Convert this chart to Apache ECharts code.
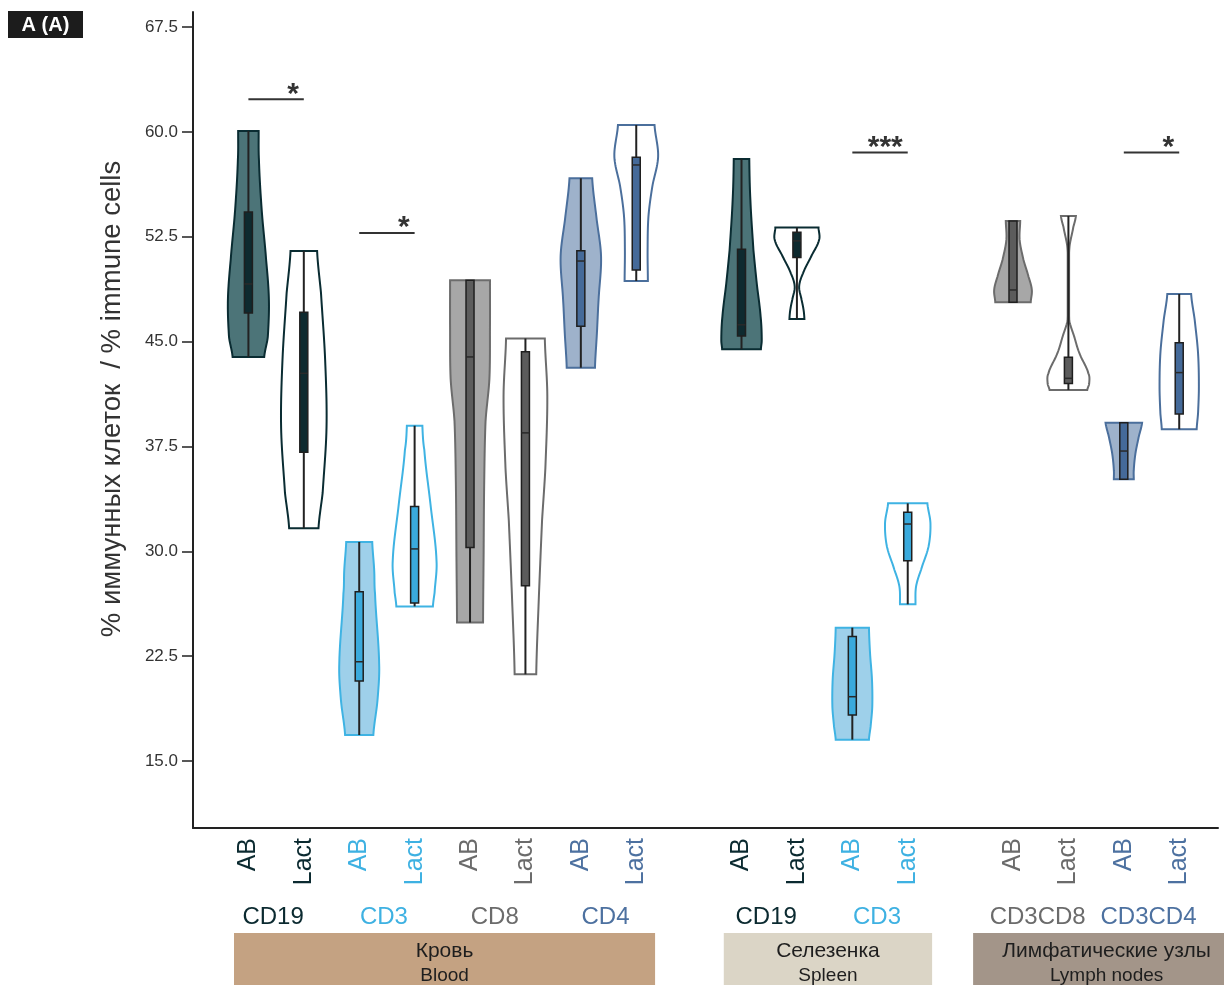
<!DOCTYPE html>
<html>
<head>
<meta charset="utf-8">
<script src="https://cdn.jsdelivr.net/npm/echarts@6/dist/echarts.min.js"></script>
<style>
  html, body { margin: 0; padding: 0; background: #ffffff; }
  #chart { width: 1224px; height: 985px; }
</style>
</head>
<body>
<div id="chart"></div>
<script>
// ---- data -------------------------------------------------------------
const tissues = [['Кровь', 'Blood'], ['Селезенка', 'Spleen'], ['Лимфатические узлы', 'Lymph nodes']];
const markers = [['CD19', 'CD3', 'CD8', 'CD4'], ['CD19', 'CD3'], ['CD3CD8', 'CD3CD4']];
const conditions = ['AB', 'Lact'];
const yTicks = [15, 22.5, 30, 37.5, 45, 52.5, 60, 67.5];

// five-number summaries per violin: [min, q1, median, q3, max]
const boxStats = [
  [43.90, 47.04, 49.12, 54.27, 60.06],  // Blood CD19 AB
  [31.65, 37.08, 42.73, 47.09, 51.48],  // Blood CD19 Lact
  [16.86, 20.72, 22.10, 27.10, 30.67],  // Blood CD3 AB
  [26.06, 26.31, 30.17, 33.20, 38.98],  // Blood CD3 Lact
  [24.91, 30.27, 43.90, 49.38, 49.38],  // Blood CD8 AB
  [21.20, 27.54, 38.47, 44.27, 45.21],  // Blood CD8 Lact
  [43.13, 46.10, 50.76, 51.50, 56.68],  // Blood CD4 AB
  [49.33, 50.12, 57.63, 58.18, 60.49],  // Blood CD4 Lact
  [44.45, 45.40, 46.20, 51.60, 58.06],  // Spleen CD19 AB
  [46.61, 51.02, 52.20, 52.81, 53.15],  // Spleen CD19 Lact
  [16.53, 18.29, 19.60, 23.90, 24.54],  // Spleen CD3 AB
  [26.21, 29.33, 31.95, 32.79, 33.43],  // Spleen CD3 Lact
  [47.81, 47.81, 48.69, 53.62, 53.62],  // Lymph nodes CD3CD8 AB
  [41.54, 42.00, 42.37, 43.88, 53.98],  // Lymph nodes CD3CD8 Lact
  [35.15, 35.15, 37.17, 39.20, 39.20],  // Lymph nodes CD3CD4 AB
  [38.73, 39.82, 42.78, 44.92, 48.40]   // Lymph nodes CD3CD4 Lact
];

// kernel density outlines: [value, relative density]
const densities = [
  [[60.06, 0.37], [58.00, 0.38], [54.41, 0.48], [50.83, 0.64], [47.97, 0.74], [45.33, 0.70], [43.90, 0.57]],
  [[51.48, 0.48], [48.48, 0.62], [43.68, 0.77], [38.89, 0.82], [34.17, 0.68], [31.65, 0.53]],
  [[30.67, 0.47], [28.66, 0.54], [27.00, 0.57], [21.94, 0.72], [19.36, 0.66], [16.86, 0.51]],
  [[38.98, 0.28], [37.25, 0.35], [33.41, 0.57], [29.33, 0.79], [27.03, 0.72], [26.06, 0.66]],
  [[49.38, 0.72], [46.00, 0.72], [42.35, 0.70], [39.29, 0.56], [34.70, 0.51], [29.60, 0.49], [24.91, 0.47]],
  [[45.21, 0.70], [41.08, 0.79], [35.96, 0.72], [32.20, 0.60], [27.00, 0.49], [21.20, 0.39]],
  [[56.68, 0.41], [53.93, 0.56], [51.07, 0.73], [47.97, 0.64], [45.60, 0.58], [43.13, 0.51]],
  [[60.49, 0.66], [58.22, 0.79], [56.08, 0.58], [53.93, 0.44], [51.55, 0.41], [49.33, 0.42]],
  [[58.06, 0.28], [55.13, 0.32], [51.55, 0.43], [49.17, 0.55], [46.78, 0.69], [45.11, 0.73], [44.45, 0.70]],
  [[53.15, 0.78], [52.27, 0.80], [51.07, 0.51], [49.88, 0.22], [48.93, 0.08], [47.97, 0.17], [47.26, 0.24], [46.61, 0.27]],
  [[24.54, 0.60], [22.70, 0.64], [20.80, 0.71], [18.89, 0.72], [17.46, 0.66], [16.53, 0.60]],
  [[33.43, 0.71], [31.99, 0.82], [30.33, 0.75], [28.66, 0.48], [27.47, 0.30], [26.21, 0.28]],
  [[53.62, 0.26], [52.27, 0.24], [50.83, 0.38], [49.64, 0.56], [48.69, 0.68], [47.81, 0.64]],
  [[53.98, 0.27], [53.22, 0.18], [51.79, 0.04], [50.10, 0.02], [46.54, 0.03], [45.35, 0.21], [44.16, 0.40], [42.73, 0.72], [42.00, 0.75], [41.54, 0.68]],
  [[39.20, 0.66], [38.20, 0.54], [37.00, 0.42], [35.80, 0.36], [35.15, 0.36]],
  [[48.40, 0.43], [46.54, 0.56], [44.16, 0.68], [41.77, 0.71], [39.87, 0.68], [38.73, 0.63]]
];

// significant AB vs Lact comparisons: [index of AB violin, bracket level, stars]
const significance = [
  [0, 62.33, '*'],
  [2, 52.77, '*'],
  [10, 58.53, '***'],
  [14, 58.53, '*']
];

// ---- layout & style ---------------------------------------------------
const FONT = '"Liberation Sans", Arial, Helvetica, sans-serif';
const Y_MIN = 10.21, Y_MAX = 68.57;
const X_MAX = 18.5;
const TISSUE_GAP = 0.9;
const tissueBandRange = [[0.74, 8.34], [9.58, 13.34], [14.08, 18.9]];
const tissueBandColor = ['#c4a282', '#dbd5c6', '#a39589'];

const palette = {
  CD19: { line: '#0a2c32', fill: '#4c7478', box: '#0e2a2f', text: '#0b2a30' },
  CD3:  { line: '#3fb3e3', fill: '#9ed0ea', box: '#3aaadd', text: '#3eb1e2' },
  CD8:  { line: '#6c6c6c', fill: '#a7a7a7', box: '#5c5c5c', text: '#6b6b6b' },
  CD4:  { line: '#4b6f9c', fill: '#9eb2cb', box: '#456a99', text: '#4d71a0' }
};
palette.CD3CD8 = palette.CD8;
palette.CD3CD4 = palette.CD4;

// slot of every violin along the x axis, with a gap between tissues
const violins = [];
const pairs = [];
let slot = 1;
tissues.forEach((t, ti) => {
  if (ti > 0) slot += TISSUE_GAP;
  markers[ti].forEach(m => {
    pairs.push({ marker: m, mid: slot + 0.5 });
    conditions.forEach(c => {
      violins.push({ tissue: ti, marker: m, cond: c, pos: slot });
      slot += 1;
    });
  });
});

// smooth outline: linear in y, Catmull-Rom on the half-width
function smoothOutline(pts) {
  const out = [];
  const steps = 12;
  for (let k = 0; k < pts.length - 1; k++) {
    const p0 = pts[k - 1] || pts[k], p1 = pts[k], p2 = pts[k + 1], p3 = pts[k + 2] || pts[k + 1];
    for (let s = 0; s < steps; s++) {
      const t = s / steps, t2 = t * t, t3 = t2 * t;
      const w = 0.5 * (2 * p1[1] + (-p0[1] + p2[1]) * t + (2 * p0[1] - 5 * p1[1] + 4 * p2[1] - p3[1]) * t2 + (-p0[1] + 3 * p1[1] - 3 * p2[1] + p3[1]) * t3);
      out.push([p1[0] + (p2[0] - p1[0]) * t, Math.max(0.7, w)]);
    }
  }
  out.push(pts[pts.length - 1]);
  return out;
}

function renderViolin(params, api) {
  const i = api.value(2);
  const v = violins[i];
  const st = boxStats[i];
  const pal = palette[v.marker];
  const yOf = val => api.coord([v.pos, val])[1];
  const cx = api.coord([v.pos, st[2]])[0];
  const half = api.size([1, 0])[0] * 0.5;
  const pts = densities[i].map(([val, d]) => [yOf(val), d * half]).sort((a, b) => a[0] - b[0]);
  const outline = smoothOutline(pts);
  const right = outline.map(([y, w]) => [cx + w, y]);
  const left = outline.slice().reverse().map(([y, w]) => [cx - w, y]);
  const bw = 4;
  return {
    type: 'group',
    children: [
      { type: 'polygon', shape: { points: right.concat(left) },
        style: { fill: v.cond === 'AB' ? pal.fill : '#ffffff', stroke: pal.line, lineWidth: 2 } },
      { type: 'line', shape: { x1: cx, y1: yOf(st[4]), x2: cx, y2: yOf(st[0]) },
        style: { stroke: '#222222', lineWidth: 2 } },
      { type: 'rect', shape: { x: cx - bw, y: yOf(st[3]), width: bw * 2, height: yOf(st[1]) - yOf(st[3]) },
        style: { fill: pal.box, stroke: '#1f1f1f', lineWidth: 1.5 } },
      { type: 'line', shape: { x1: cx - bw, y1: yOf(st[2]), x2: cx + bw, y2: yOf(st[2]) },
        style: { stroke: '#2a2a2a', lineWidth: 1.5 } },
      { type: 'text', x: cx, y: yOf(Y_MIN) + 10, rotation: Math.PI / 2,
        style: { text: v.cond, fill: pal.text, fontSize: 25, fontFamily: FONT, align: 'right', verticalAlign: 'middle' } }
    ]
  };
}

function renderSignificance(params, api) {
  const s = significance[api.value(2)];
  const a = violins[s[0]].pos, b = violins[s[0] + 1].pos;
  const p1 = api.coord([a, s[1]]);
  const x2 = api.coord([b, s[1]])[0];
  return {
    type: 'group',
    children: [
      { type: 'line', shape: { x1: p1[0], y1: p1[1], x2: x2, y2: p1[1] }, style: { stroke: '#333333', lineWidth: 2 } },
      { type: 'text', x: x2 - 5, y: p1[1] - 5,
        style: { text: s[2], fill: '#333333', fontSize: 30, fontWeight: 'bold', fontFamily: FONT, align: 'right', verticalAlign: 'middle' } }
    ]
  };
}

function renderMarkerLabel(params, api) {
  const p = pairs[api.value(2)];
  const pt = api.coord([p.mid, Y_MIN]);
  return {
    type: 'text', x: pt[0] - 3, y: pt[1] + 89,
    style: { text: p.marker, fill: palette[p.marker].text, fontSize: 24, fontFamily: FONT, align: 'center', verticalAlign: 'middle' }
  };
}

function renderTissueBand(params, api) {
  const ti = api.value(2);
  const r = tissueBandRange[ti];
  const a = api.coord([r[0], Y_MIN]);
  const bx = api.coord([r[1], Y_MIN])[0];
  const top = a[1] + 105;
  const mid = (a[0] + bx) / 2;
  return {
    type: 'group',
    children: [
      { type: 'rect', shape: { x: a[0], y: top, width: bx - a[0], height: 80 }, style: { fill: tissueBandColor[ti] } },
      { type: 'text', x: mid, y: top + 18,
        style: { text: tissues[ti][0], fill: '#1e1e1e', fontSize: 21, fontFamily: FONT, align: 'center', verticalAlign: 'middle' } },
      { type: 'text', x: mid, y: top + 43,
        style: { text: tissues[ti][1], fill: '#1e1e1e', fontSize: 19, fontFamily: FONT, align: 'center', verticalAlign: 'middle' } }
    ]
  };
}

const chart = echarts.init(document.getElementById('chart'), null, { renderer: 'canvas' });

chart.setOption({
  animation: false,
  backgroundColor: '#ffffff',
  grid: { left: 193, right: 6, top: 12, bottom: 157 },
  xAxis: {
    type: 'value', min: 0, max: X_MAX,
    axisLine: { show: true, onZero: false, lineStyle: { color: '#222222', width: 2 } },
    axisTick: { show: false }, axisLabel: { show: false }, splitLine: { show: false }
  },
  yAxis: {
    type: 'value', min: Y_MIN, max: Y_MAX,
    axisLine: { show: true, lineStyle: { color: '#222222', width: 2 } },
    axisTick: { show: true, length: 11, customValues: yTicks, lineStyle: { color: '#222222', width: 1.5 } },
    axisLabel: { show: true, customValues: yTicks, margin: 15, color: '#333333', fontSize: 17, fontFamily: FONT,
      formatter: v => Number(v).toFixed(1) },
    splitLine: { show: false }
  },
  graphic: [
    { type: 'rect', left: 8, top: 11, shape: { width: 75, height: 27 }, style: { fill: '#1c1c1c' } },
    { type: 'text', x: 45.5, y: 25, style: { text: 'A (A)', fill: '#ffffff', fontSize: 20, fontWeight: 'bold', fontFamily: FONT, align: 'center', verticalAlign: 'middle' } },
    { type: 'text', x: 112, y: 399, rotation: Math.PI / 2,
      style: { text: '% иммунных клеток  / % immune cells', fill: '#333333', fontSize: 27.5, fontFamily: FONT, align: 'center', verticalAlign: 'middle' } }
  ],
  series: [
    { type: 'custom', name: 'tissues', renderItem: renderTissueBand, clip: false, silent: true,
      data: tissues.map((t, i) => [tissueBandRange[i][0], Y_MIN, i]) },
    { type: 'custom', name: 'markers', renderItem: renderMarkerLabel, clip: false, silent: true,
      data: pairs.map((p, i) => [p.mid, Y_MIN, i]) },
    { type: 'custom', name: 'violins', renderItem: renderViolin, clip: false,
      data: violins.map((v, i) => [v.pos, boxStats[i][2], i]) },
    { type: 'custom', name: 'significance', renderItem: renderSignificance, clip: false, silent: true,
      data: significance.map((s, i) => [violins[s[0]].pos, s[1], i]) }
  ]
});
</script>
</body>
</html>
